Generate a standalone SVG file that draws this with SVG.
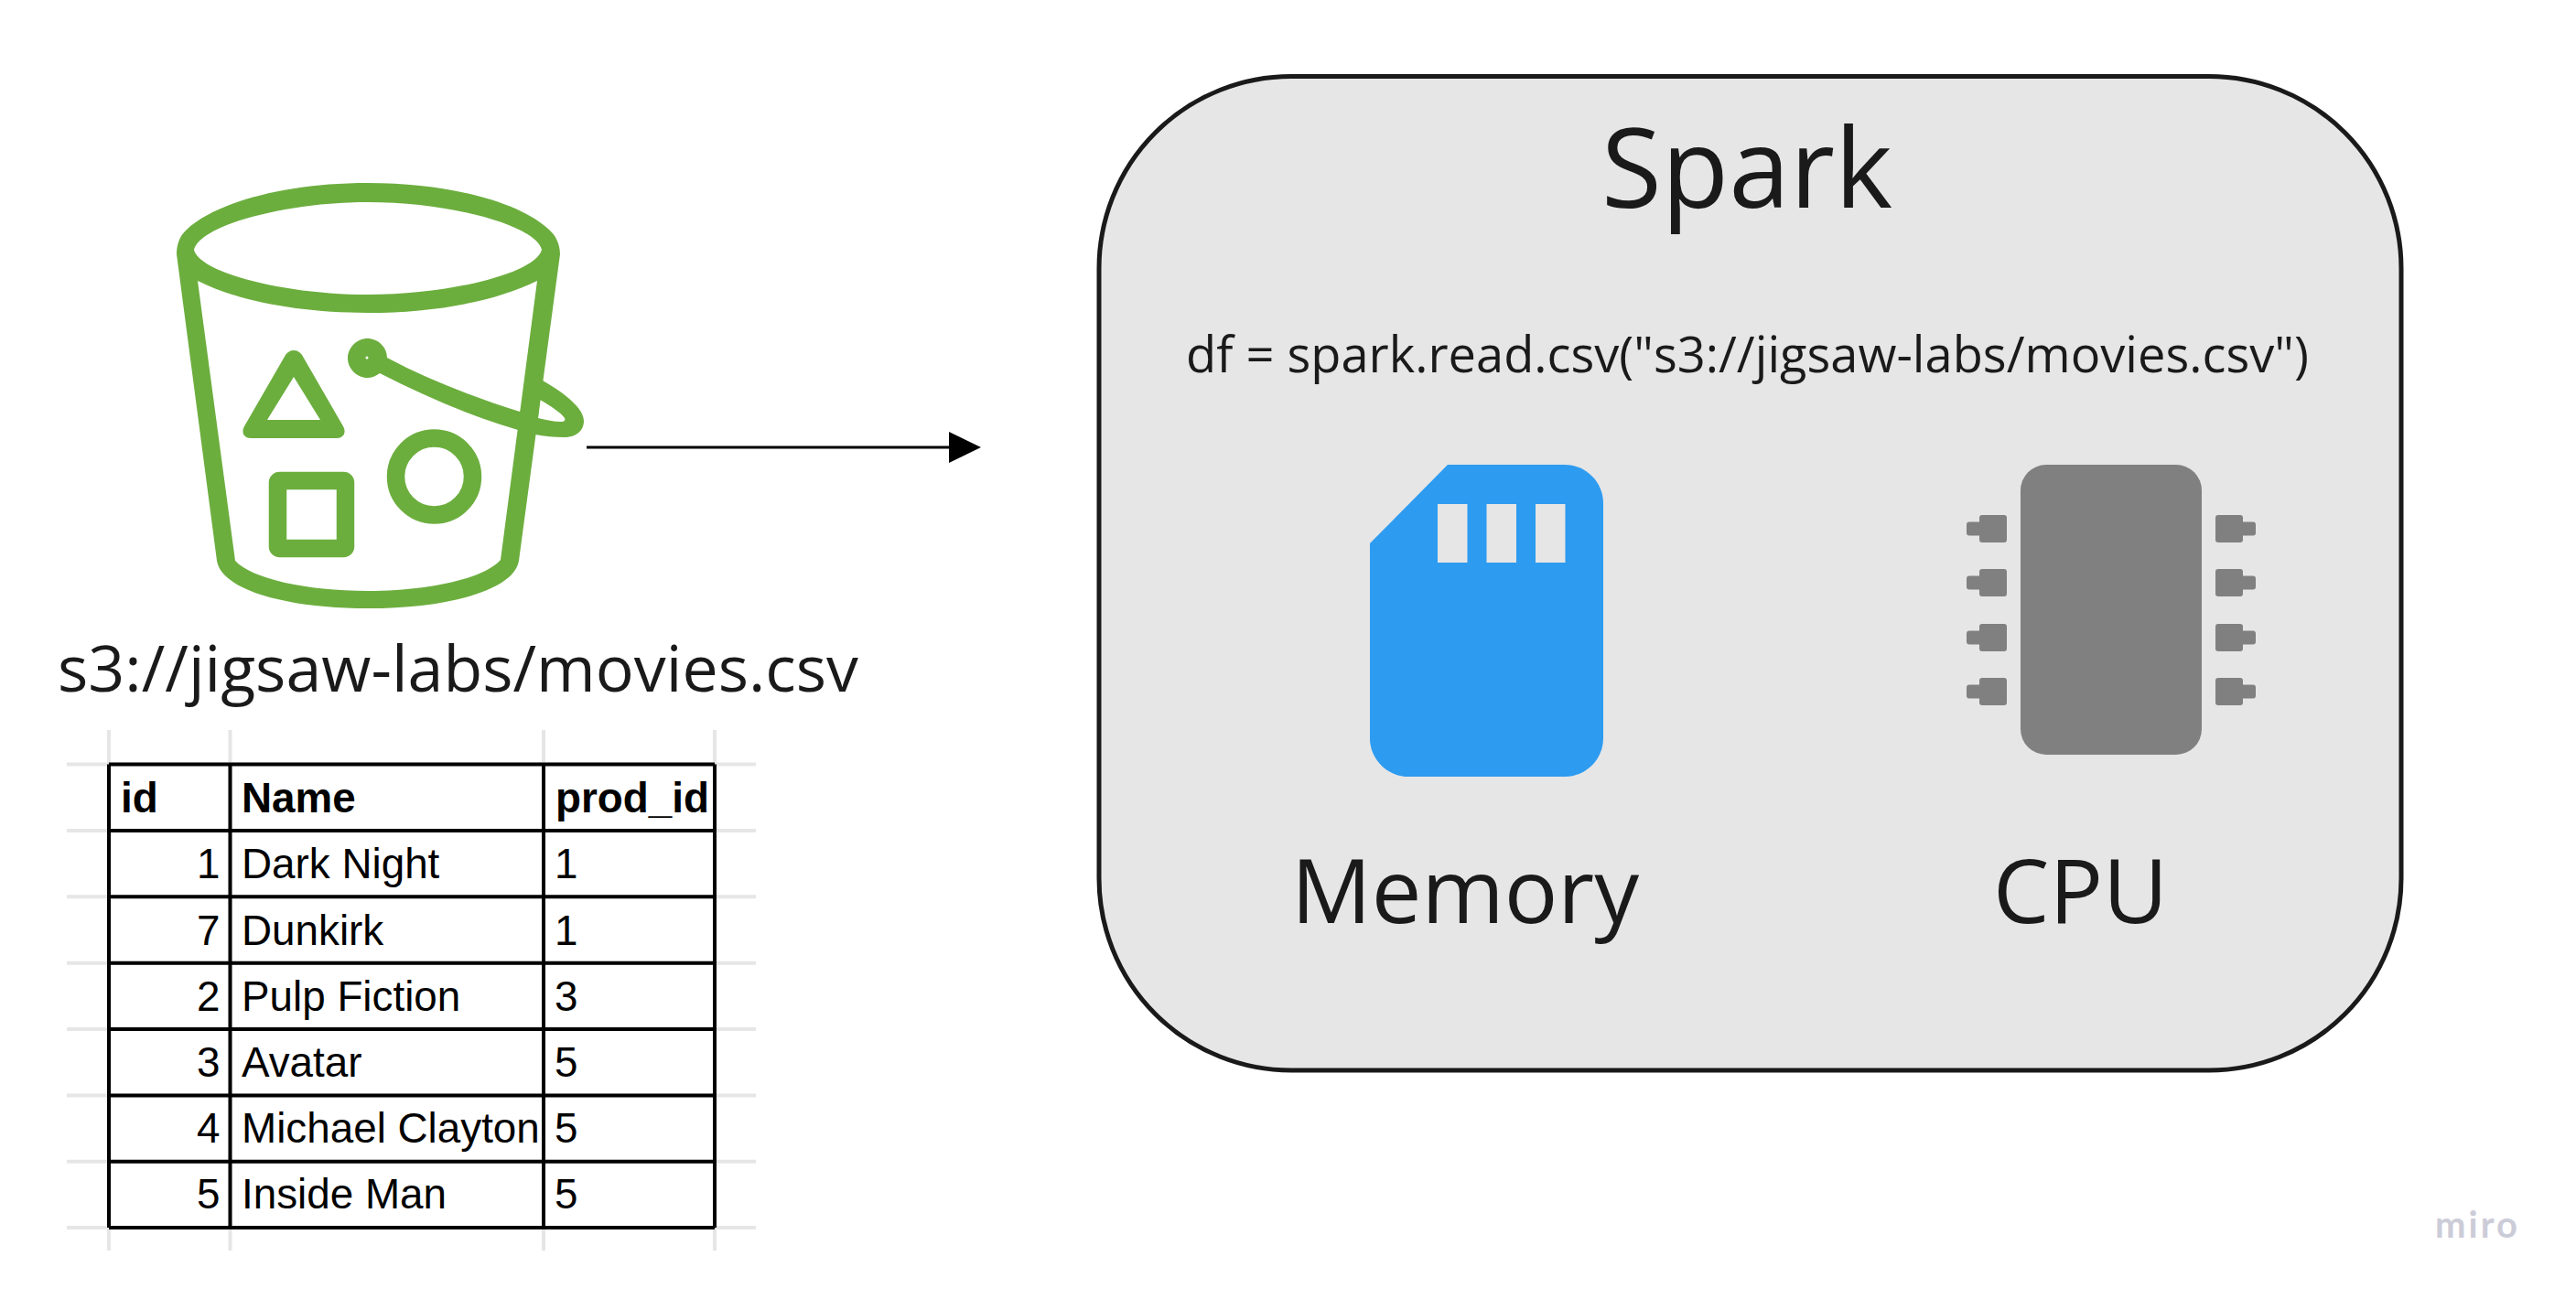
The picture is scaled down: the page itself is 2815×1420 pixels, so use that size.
<svg xmlns="http://www.w3.org/2000/svg" width="2815" height="1420" viewBox="0 0 2815 1420">
<style>
.o{font-family:"Open Sans","Noto Sans",sans-serif;fill:#1a1a1a}
.t{font-family:"Liberation Sans",Arial,sans-serif;font-size:45.8px;fill:#000}
.b{font-weight:700}
.r{text-anchor:end}
.g{stroke:#e6e6e6;stroke-width:4;fill:none}
.k{stroke:#000;stroke-width:4;fill:none}
.gf{fill:#6cae3e;fill-rule:evenodd}
.gr{fill:none;stroke:#6cae3e;stroke-width:19.500;stroke-linejoin:round}
.pin{fill:#808080}
</style>
<defs>
<marker id="ah" markerUnits="userSpaceOnUse" markerWidth="36" markerHeight="36" refX="0" refY="17" orient="auto"><path d="M0 0L35 17L0 34Z" fill="#000"/></marker>
<g id="pinL"><rect class="pin" x="2163" y="0" width="30" height="30" rx="3"/><rect class="pin" x="2149" y="7.500" width="20" height="15" rx="3"/></g>
<g id="pinR"><rect class="pin" x="2421" y="0" width="30" height="30" rx="3"/><rect class="pin" x="2445" y="7.500" width="20" height="15" rx="3"/></g>
</defs>
<rect width="2815" height="1420" fill="#fff"/>
<g id="bucket">
<path class="gf" d="M193 278C193 268 196 258 204 251C235 222 310 200 402 200C494 200 570 222 600 251C608 258 612 268 612 278L567 613C562 645 490 665 402 665C314 665 242 645 237 613ZM212 273C218 298 310 322 402 322C494 322 586 298 592 273C586 247 494 221 402 221C310 221 218 247 212 273ZM216 307L257 613C274 632 334 646 402 646C470 646 530 632 547 612L587 307C540 330 474 342 402 342C330 342 262 330 216 307Z"/>
<path class="gf" d="M321 383C325 383 328 385 330 388L375 466C379 473 375 479 368 479H274C267 479 263 473 267 466L312 388C314 385 317 383 321 383ZM321 412L292 459H350Z"/>
<rect class="gr" x="303.500" y="525.500" width="74" height="74" rx="2"/>
<circle class="gr" cx="474.500" cy="521" r="42"/>
<path class="gf" d="M401.500 370C413 370 423 379.500 423 391C470 416 520 435 568 450L590 412L593 416C618 430 638 447 638 460C638 472 628 478 617 478C605 478 595 477 585 475C525 460 470 436 415 408C411 411 406 413 401.500 413C390 413 380 403 380 391.500C380 380 390 370 401.500 370ZM590 437L588 457C597 459 605 461 613 461C617 461 618 459 617 457C613 451 602 444 590 437Z"/>
<circle cx="401" cy="391" r="1.500" fill="#fff"/>
</g>
<g id="bucket-label"><text class="o" x="63" y="756" font-size="69.900">s3://jigsaw-labs/movies.csv</text></g>
<g id="table">
<path class="g" d="M73 835.500H826M73 907.900H826M73 980.300H826M73 1052.700H826M73 1125H826M73 1197.400H826M73 1269.800H826M73 1342H826M119 798V1367M251.500 798V1367M594 798V1367M781 798V1367"/>
<path class="k" d="M119 835.500H781M119 907.900H781M119 980.300H781M119 1052.700H781M119 1125H781M119 1197.400H781M119 1269.800H781M119 1342H781M119 835.500V1342M251.500 835.500V1342M594 835.500V1342M781 835.500V1342"/>
<text class="t b" x="132" y="888">id</text><text class="t b" x="264" y="888">Name</text><text class="t b" x="607" y="888">prod_id</text>
<text class="t r" x="240.500" y="960">1</text><text class="t" x="264" y="960">Dark Night</text><text class="t" x="606" y="960">1</text>
<text class="t r" x="240.500" y="1033">7</text><text class="t" x="264" y="1033">Dunkirk</text><text class="t" x="606" y="1033">1</text>
<text class="t r" x="240.500" y="1105">2</text><text class="t" x="264" y="1105">Pulp Fiction</text><text class="t" x="606" y="1105">3</text>
<text class="t r" x="240.500" y="1177">3</text><text class="t" x="264" y="1177">Avatar</text><text class="t" x="606" y="1177">5</text>
<text class="t r" x="240.500" y="1249">4</text><text class="t" x="264" y="1249">Michael Clayton</text><text class="t" x="606" y="1249">5</text>
<text class="t r" x="240.500" y="1321">5</text><text class="t" x="264" y="1321">Inside Man</text><text class="t" x="606" y="1321">5</text>
</g>
<g id="connectors"><line x1="641" y1="489" x2="1037" y2="489" stroke="#000" stroke-width="3" marker-end="url(#ah)"/></g>
<g id="spark">
<rect x="1201" y="83.500" width="1423" height="1086.500" rx="210" fill="#e6e6e6" stroke="#1a1a1a" stroke-width="5"/>
<text class="o" x="1750" y="227" font-size="120">Spark</text>
<text class="o" x="1296" y="407" font-size="54.200">df = spark.read.csv("s3://jigsaw-labs/movies.csv")</text>
</g>
<g id="memory">
<path fill="#2d9bf0" d="M1582 508H1710C1733 508 1752 527 1752 550V807C1752 830 1733 849 1710 849H1539C1516 849 1497 830 1497 807V594Z"/>
<path fill="#e6e6e6" d="M1571 551h32.500v64h-32.500zM1624.500 551h32.500v64h-32.500zM1678 551h32.500v64h-32.500z"/>
<text class="o" x="1411" y="1009" font-size="97.500">Memory</text>
</g>
<g id="cpu">
<rect x="2208" y="508" width="198" height="317" rx="28" fill="#808080"/>
<use href="#pinL" y="563"/><use href="#pinL" y="622"/><use href="#pinL" y="682"/><use href="#pinL" y="741"/>
<use href="#pinR" y="563"/><use href="#pinR" y="622"/><use href="#pinR" y="682"/><use href="#pinR" y="741"/>
<text class="o" x="2178" y="1009" font-size="97.500">CPU</text>
</g>
<g id="watermark"><text x="2661" y="1353" font-family="Lato,sans-serif" font-weight="700" font-size="40" letter-spacing="3" fill="#ccccd8">miro</text></g>
</svg>
